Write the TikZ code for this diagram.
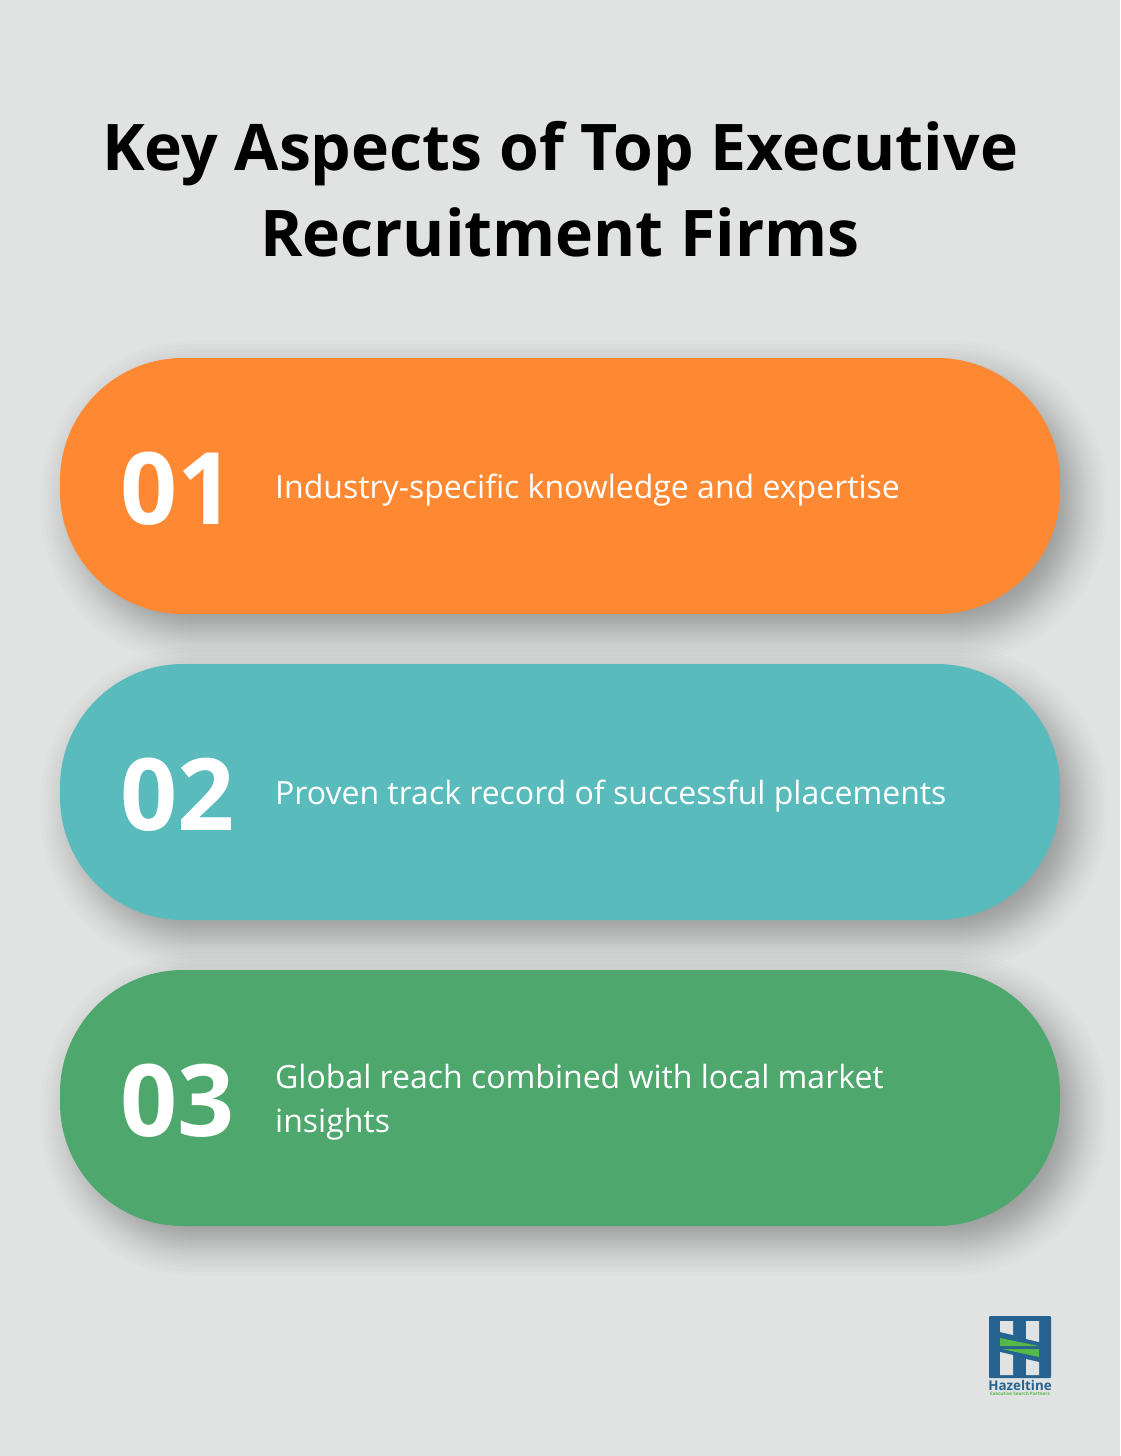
\documentclass[tikz,border=0pt]{standalone}
\usepackage{fontspec}
\setmainfont{Open Sans}
\definecolor{bgcol}{HTML}{E0E3E2}
\definecolor{orangecol}{HTML}{FF8933}
\definecolor{tealcol}{HTML}{5ABBBD}
\definecolor{greencol}{HTML}{4EA76D}
\definecolor{logoblue}{HTML}{266391}
\definecolor{logogreen}{HTML}{55B847}
\tikzset{
	pill/.style={rectangle, rounded corners=123pt, minimum width=1000pt, minimum height=256pt, inner sep=0pt},
	pillshadow/.style={rectangle, inner sep=0pt, fill=black, opacity=0.011},
	numlabel/.style={anchor=base west, inner sep=0pt, text=white, font=\fontsize{100}{100}\selectfont\bfseries},
	itemlabel/.style={anchor=west, inner sep=0pt, text=white, align=left, font=\fontsize{32}{44}\selectfont},
	window/.style={fill=bgcol}
}
\begin{document}
\begin{tikzpicture}[x=1pt,y=-1pt]
	\useasboundingbox (0,0) rectangle (1120,1456);
	\fill[bgcol] (0,0) rectangle (1120,1456);
	\node (title) at (560,189) [align=center, inner sep=0pt, text=black, font=\fontsize{64.3}{86}\selectfont\bfseries] {Key Aspects of Top Executive\\Recruitment Firms};
	% soft shadows under the cards
	\foreach \cy in {486,792,1098}
		\foreach \g in {-26,-24,...,4,6,8,...,14,17,20,...,26,30,34}
			\node at (574,\cy+16) [pillshadow, rounded corners=123pt+\g pt, minimum width=1000pt+2*\g pt, minimum height=256pt+2*\g pt] {};
	\node (card1) at (560, 486)	[pill, fill=orangecol]	{};
	\node (card2) at (560, 792)	[pill, fill=tealcol]	{};
	\node (card3) at (560,1098)	[pill, fill=greencol]	{};
	\node (num1) at (120, 524)	[numlabel]	{01};
	\node (num2) at (120, 830)	[numlabel]	{02};
	\node (num3) at (120,1136)	[numlabel]	{03};
	\node (item1) at (275, 490)	[itemlabel]	{Industry-specific knowledge and expertise};
	\node (item2) at (275, 796)	[itemlabel]	{Proven track record of successful placements};
	\node (item3) at (275,1102)	[itemlabel]	{Global reach combined with local market\\insights};
	% logo
	\fill[logoblue, rounded corners=1pt] (989,1316) rectangle (1051,1378);
	\fill[window] (1000,1321) -- (1013,1321) -- (1013,1335) -- (1000,1332) -- cycle;
	\fill[window] (1026,1321) -- (1039,1321) -- (1039,1342) -- (1026,1339) -- cycle;
	\fill[window] (1000,1352) -- (1013,1355) -- (1013,1375) -- (1000,1375) -- cycle;
	\fill[window] (1026,1359) -- (1039,1362) -- (1039,1375) -- (1026,1375) -- cycle;
	\fill[logogreen] (1000,1338) -- (1039,1346) -- (1000,1346) -- cycle;
	\fill[logogreen] (1002,1349) -- (1039,1349) -- (1039,1357) -- cycle;
	\node (logoname) at (1020,1385) [inner sep=0pt, text=logoblue, font=\fontsize{13.4}{13}\selectfont\bfseries] {Hazeltine};
	\node (logosub) at (1020,1394) [inner sep=0pt, text=logogreen, font=\fontsize{4.6}{5}\selectfont\bfseries] {Executive Search Partners};
\end{tikzpicture}
\end{document}
